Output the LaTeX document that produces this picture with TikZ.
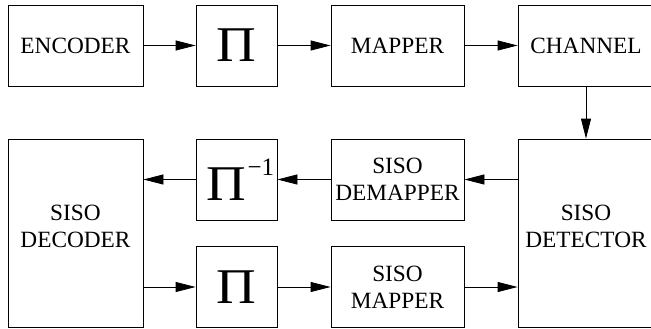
\documentclass[tikz,border=0pt]{standalone}
\usepackage{fontspec}
\setmainfont{Liberation Serif}
\usepackage{graphicx}
\usetikzlibrary{arrows.meta}
\newcommand{\PiSym}{\scalebox{1.1}[1]{\fontsize{50}{50}\selectfont Π}}
\tikzset{
  blk/.style={draw, line width=0.8pt, inner sep=0pt, minimum height=81pt,
              font=\fontsize{23.3}{27}\selectfont, align=center},
  flow/.style={line width=0.8pt, -{Triangle[length=20pt,width=10pt]}},
  lbl/.style={font=\fontsize{23.3}{27}\selectfont, align=center, inner sep=0pt}
}
\begin{document}
\begin{tikzpicture}[x=1pt,y=1pt]
  \useasboundingbox (0,0) rectangle (651,-329);
  % transmitter chain
  \node[blk, minimum width=135pt] (enc)  at (75.5,-45.5) {ENCODER};
  \node[blk, minimum width=81pt] (pi1) at (236.5,-45.5) {\PiSym};
  \node[blk, minimum width=133pt] (map)  at (397.5,-45.5) {MAPPER};
  \node[blk, minimum width=136pt] (chan) at (586,-45.5) {CHANNEL};
  % receiver loop
  \node[blk, minimum width=136pt, minimum height=188pt] (det) at (586,-233) {};
  \node[lbl] (dettxt) at ([yshift=7pt]det.center) {SISO\\DETECTOR};
  \node[blk, minimum width=133pt] (demap) at (397.5,-179.5) {SISO\\DEMAPPER};
  \node[blk, minimum width=81pt] (pinv) at (236.5,-179.5)
    {\hspace*{8pt}\PiSym\hspace{1pt}\raisebox{25pt}{\fontsize{25}{25}\selectfont −1}};
  \node[blk, minimum width=135pt, minimum height=188pt] (dec) at (75.5,-233) {};
  \node[lbl] (dectxt) at ([yshift=7pt]dec.center) {SISO\\DECODER};
  \node[blk, minimum width=81pt] (pi2) at (236.5,-287) {\PiSym};
  \node[blk, minimum width=133pt] (smap) at (397.5,-287) {SISO\\MAPPER};
  % connectors
  \draw[flow] (enc) -- (pi1);
  \draw[flow] (pi1) -- (map);
  \draw[flow] (map) -- (chan);
  \draw[flow] (chan) -- (det);
  \draw[flow] (det.west |- demap.east) -- (demap.east);
  \draw[flow] (demap) -- (pinv);
  \draw[flow] (pinv.west) -- (pinv.west -| dec.east);
  \draw[flow] (pi2.west -| dec.east) -- (pi2.west);
  \draw[flow] (pi2) -- (smap);
  \draw[flow] (smap.east) -- (smap.east -| det.west);
\end{tikzpicture}
\end{document}
